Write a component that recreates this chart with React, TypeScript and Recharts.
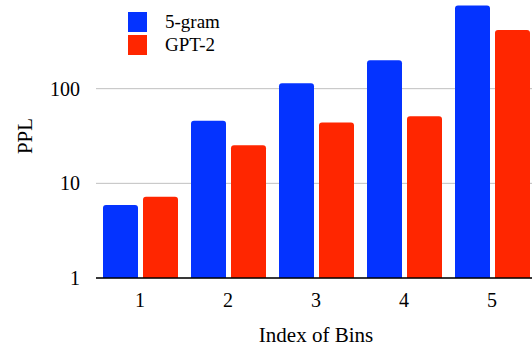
import React from 'react';
import { BarChart, Bar, XAxis, YAxis, CartesianGrid, Legend } from 'recharts';

const bins = ['1', '2', '3', '4', '5'];
const fiveGram = [5.9, 45.8, 114, 200, 758];
const gpt2 = [7.2, 25.2, 44, 51, 416];
const yTicks = [1, 10, 100];
const seriesNames = ['5-gram', 'GPT-2'];
const seriesColors = ['#0433FF', '#FF2600'];

const data = bins.map((b, i) => ({ bin: b, fiveGram: fiveGram[i], gpt2: gpt2[i] }));

const FONT = '"Liberation Serif", "Times New Roman", serif';
const css = `.chartbox, .chartbox text, .chartbox tspan { font-family: ${FONT} !important; }`;

const renderLegend = () => (
  <div style={{ fontFamily: FONT, fontSize: 19, color: '#000' }}>
    {seriesNames.map((n, i) => (
      <div key={n} style={{ display: 'flex', alignItems: 'flex-start', height: 23, lineHeight: '23px' }}>
        <div style={{ width: 19, height: 20, marginTop: 1.5, background: seriesColors[i] }} />
        <span style={{ marginLeft: 18 }}>{n}</span>
      </div>
    ))}
  </div>
);

export default function App() {
  return (
    <div className="chartbox" style={{ position: 'absolute', left: 0, top: 0, width: 532, height: 347, overflow: 'hidden', background: '#fff' }}>
      <style>{css}</style>
      <div style={{ position: 'absolute', left: 0, top: -20 }}>
        <BarChart
          width={540}
          height={367}
          data={data}
          margin={{ top: 14, right: 4, left: 0, bottom: 5 }}
          barCategoryGap={7}
          barGap={5}
        >
          <CartesianGrid horizontal vertical={false} stroke="#c0c0c0" strokeWidth={1} />
          <XAxis
            dataKey="bin"
            height={64}
            tickLine={false}
            tickSize={0}
            tickMargin={15}
            axisLine={{ stroke: '#000', strokeWidth: 1.5 }}
            tick={{ fill: '#000', fontSize: 20 }}
            label={{ value: 'Index of Bins', position: 'insideBottom', offset: 0, fill: '#000', fontSize: 21 }}
          />
          <YAxis
            scale="log"
            domain={[1, 1000]}
            allowDataOverflow
            ticks={yTicks}
            width={96}
            axisLine={false}
            tickLine={false}
            tickSize={0}
            tickMargin={16}
            tick={{ fill: '#000', fontSize: 20 }}
            label={{ value: 'PPL', angle: -90, position: 'insideLeft', offset: 25, fill: '#000', fontSize: 21, style: { textAnchor: 'middle' } }}
          />
          <Legend
            content={renderLegend}
            layout="horizontal"
            verticalAlign="middle"
            align="center"
            wrapperStyle={{ left: 128, top: 30.4, width: 150, height: 46 }}
          />
          <Bar dataKey="fiveGram" name={seriesNames[0]} fill={seriesColors[0]} radius={[3, 3, 0, 0]} isAnimationActive={false} />
          <Bar dataKey="gpt2" name={seriesNames[1]} fill={seriesColors[1]} radius={[3, 3, 0, 0]} isAnimationActive={false} />
        </BarChart>
      </div>
    </div>
  );
}
